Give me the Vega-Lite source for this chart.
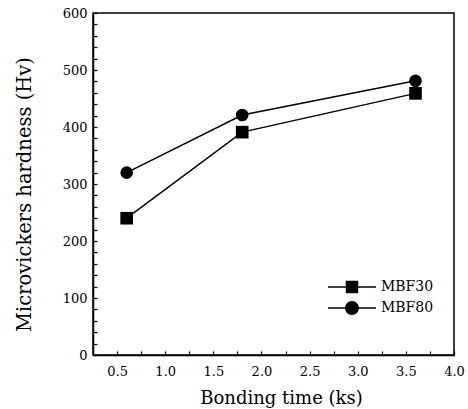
{
  "$schema": "https://vega.github.io/schema/vega-lite/v6.json",
  "width": 361,
  "height": 342,
  "autosize": {"type": "none"},
  "padding": {"left": 93, "top": 13, "right": 14, "bottom": 54},
  "background": "white",
  "config": {
    "view": {"stroke": "black", "strokeWidth": 1.5},
    "font": "DejaVu Serif",
    "axis": {
      "domainColor": "black", "domainWidth": 1.5,
      "tickColor": "black", "tickWidth": 1.2, "tickSize": -4,
      "grid": false,
      "labelFont": "DejaVu Serif", "labelFontSize": 13, "labelColor": "black",
      "labelOverlap": false, "labelFlush": false,
      "titleFont": "DejaVu Serif", "titleFontWeight": "normal", "titleColor": "black"
    }
  },
  "data": {
    "values": [
      {"series": "MBF30", "t": 0.6, "hv": 240},
      {"series": "MBF30", "t": 1.8, "hv": 391},
      {"series": "MBF30", "t": 3.6, "hv": 459},
      {"series": "MBF80", "t": 0.6, "hv": 320},
      {"series": "MBF80", "t": 1.8, "hv": 421},
      {"series": "MBF80", "t": 3.6, "hv": 481}
    ]
  },
  "encoding": {
    "x": {
      "field": "t", "type": "quantitative",
      "scale": {"domain": [0.25, 4.0], "nice": false, "zero": false},
      "title": "Bonding time (ks)",
      "axis": {
        "values": [0.5, 0.75, 1.0, 1.25, 1.5, 1.75, 2.0, 2.25, 2.5, 2.75, 3.0, 3.25, 3.5, 3.75, 4.0],
        "labelExpr": "(datum.value * 2) % 1 === 0 ? format(datum.value, '.1f') : ''",
        "labelPadding": 14,
        "titleFontSize": 18,
        "titlePadding": 11,
        "titleX": 188
      }
    },
    "y": {
      "field": "hv", "type": "quantitative",
      "scale": {"domain": [0, 600], "nice": false},
      "title": "Microvickers hardness (Hv)",
      "axis": {
        "values": [0, 20, 40, 60, 80, 100, 120, 140, 160, 180, 200, 220, 240, 260, 280, 300, 320, 340, 360, 380, 400, 420, 440, 460, 480, 500, 520, 540, 560, 580, 600],
        "labelExpr": "datum.value % 100 === 0 ? datum.label : ''",
        "labelPadding": 10,
        "titleFontSize": 19.5,
        "titlePadding": 28,
        "titleY": 181
      }
    }
  },
  "resolve": {"scale": {"shape": "independent"}},
  "layer": [
    {
      "mark": {"type": "line", "color": "black", "strokeWidth": 1.5},
      "encoding": {"detail": {"field": "series"}}
    },
    {
      "mark": {"type": "point", "filled": true, "opacity": 1, "color": "black", "size": 160},
      "encoding": {
        "shape": {
          "field": "series", "type": "nominal",
          "scale": {"domain": ["MBF30", "MBF80"], "range": ["square", "circle"]},
          "legend": null
        }
      }
    },
    {
      "mark": {"type": "point", "filled": true, "opacity": 0, "color": "black", "size": 2304},
      "encoding": {
        "shape": {
          "field": "series", "type": "nominal",
          "scale": {
            "domain": ["MBF30", "MBF80"],
            "range": [
              "M-1,-0.031H1V0.031H-1ZM-0.26,-0.26H0.26V0.26H-0.26Z",
              "M-1,-0.031H1V0.031H-1ZM0.29,0A0.29,0.29,0,1,1,-0.29,0A0.29,0.29,0,1,1,0.29,0Z"
            ]
          },
          "legend": {
            "title": null,
            "orient": "none",
            "legendX": 235,
            "legendY": 264,
            "padding": 0,
            "symbolSize": 2304,
            "clipHeight": 20,
            "rowPadding": 1,
            "labelOffset": 5,
            "symbolOpacity": 1,
            "symbolFillColor": "black",
            "symbolStrokeWidth": 0,
            "labelFont": "DejaVu Serif",
            "labelFontSize": 14,
            "labelColor": "black"
          }
        }
      }
    }
  ]
}
